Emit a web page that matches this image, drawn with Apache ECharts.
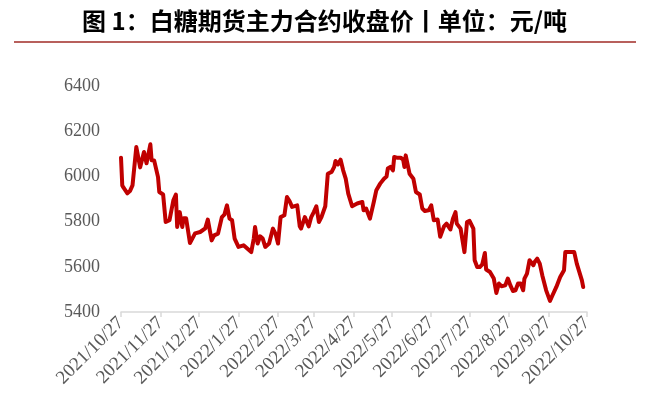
<!DOCTYPE html>
<html>
<head>
<meta charset="utf-8">
<script src="https://cdn.jsdelivr.net/npm/echarts@6/dist/echarts.min.js"></script>
<style>
  html, body { margin: 0; padding: 0; background: #fff; }
  #chart { width: 649px; height: 405px; }
</style>
</head>
<body>
<div id="chart"></div>
<script>
// 白糖期货主力合约收盘价 (元/吨)
const dates = [
  '2021-10-27','2021-10-28','2021-10-29','2021-11-01','2021-11-03','2021-11-05','2021-11-08','2021-11-11',
  '2021-11-14','2021-11-16','2021-11-19','2021-11-20','2021-11-22','2021-11-25','2021-11-26','2021-11-29',
  '2021-12-01','2021-12-04','2021-12-07','2021-12-09','2021-12-10','2021-12-12','2021-12-14','2021-12-15',
  '2021-12-17','2021-12-20','2021-12-21','2021-12-24','2021-12-28','2022-01-01','2022-01-03','2022-01-06',
  '2022-01-08','2022-01-11','2022-01-14','2022-01-16','2022-01-18','2022-01-20','2022-01-22','2022-01-24',
  '2022-01-27','2022-01-31','2022-02-06','2022-02-08','2022-02-09','2022-02-11','2022-02-13','2022-02-15',
  '2022-02-17','2022-02-20','2022-02-23','2022-02-25','2022-02-27','2022-03-01','2022-03-04','2022-03-06',
  '2022-03-08','2022-03-10','2022-03-11','2022-03-14','2022-03-16','2022-03-17','2022-03-20','2022-03-23',
  '2022-03-25','2022-03-27','2022-03-29','2022-03-31','2022-04-02','2022-04-05','2022-04-07','2022-04-10',
  '2022-04-12','2022-04-13','2022-04-15','2022-04-17','2022-04-19','2022-04-21','2022-04-23','2022-04-26',
  '2022-04-30','2022-05-04','2022-05-05','2022-05-07','2022-05-10','2022-05-11','2022-05-13','2022-05-15',
  '2022-05-18','2022-05-21','2022-05-23','2022-05-24','2022-05-26','2022-05-28','2022-05-29','2022-05-31',
  '2022-06-03','2022-06-05','2022-06-06','2022-06-07','2022-06-08','2022-06-10','2022-06-13','2022-06-15',
  '2022-06-18','2022-06-20','2022-06-22','2022-06-25','2022-06-27','2022-06-29','2022-07-02','2022-07-04',
  '2022-07-07','2022-07-09','2022-07-12','2022-07-14','2022-07-16','2022-07-17','2022-07-20','2022-07-23',
  '2022-07-25','2022-07-27','2022-07-30','2022-07-31','2022-08-02','2022-08-04','2022-08-06','2022-08-08',
  '2022-08-09','2022-08-12','2022-08-15','2022-08-17','2022-08-19','2022-08-21','2022-08-24','2022-08-26',
  '2022-08-28','2022-08-30','2022-09-01','2022-09-03','2022-09-05','2022-09-07','2022-09-08','2022-09-10',
  '2022-09-12','2022-09-15','2022-09-16','2022-09-18','2022-09-20','2022-09-22','2022-09-25','2022-09-28',
  '2022-09-30','2022-10-03','2022-10-06','2022-10-09','2022-10-10','2022-10-11','2022-10-13','2022-10-17',
  '2022-10-19','2022-10-23','2022-10-24'
];
const prices = [
  6083, 5960, 5950, 5925, 5935, 5960, 6130, 6040,
  6108, 6058, 6142, 6071, 6070, 5997, 5931, 5920,
  5798, 5806, 5894, 5920, 5776, 5842, 5776, 5815,
  5815, 5705, 5703, 5748, 5754, 5770, 5809, 5717,
  5739, 5747, 5820, 5831, 5872, 5813, 5806, 5725,
  5688, 5695, 5665, 5725, 5776, 5703, 5735, 5725,
  5688, 5703, 5769, 5747, 5703, 5820, 5828, 5909,
  5891, 5865, 5868, 5872, 5779, 5769, 5820, 5779,
  5820, 5842, 5868, 5798, 5820, 5868, 6012, 6020,
  6042, 6068, 6053, 6074, 6027, 5990, 5924, 5868,
  5880, 5887, 5850, 5858, 5813, 5806, 5887, 5939,
  5968, 5990, 6000, 6035, 6042, 6027, 6086, 6083,
  6083, 6074, 6042, 6093, 6101, 6012, 5990, 5931,
  5920, 5858, 5847, 5850, 5872, 5806, 5809, 5733,
  5779, 5791, 5765, 5813, 5842, 5791, 5769, 5665,
  5798, 5803, 5769, 5629, 5599, 5599, 5611, 5661,
  5588, 5577, 5548, 5484, 5526, 5514, 5518, 5548,
  5518, 5493, 5496, 5526, 5526, 5496, 5548, 5570,
  5629, 5607, 5621, 5636, 5614, 5562, 5496, 5449,
  5474, 5511, 5555, 5585, 5665, 5661, 5665, 5665,
  5614, 5540, 5511
];
const tickDates = [
  '2021-10-27','2021-11-27','2021-12-27','2022-01-27','2022-02-27','2022-03-27','2022-04-27',
  '2022-05-27','2022-06-27','2022-07-27','2022-08-27','2022-09-27','2022-10-27'
];
const yTicks = [5400, 5600, 5800, 6000, 6200, 6400];

// x is counted in days from the first tick date, so the axis stays calendar-true
const toTime = s => { const p = s.split('-'); return Date.UTC(+p[0], +p[1] - 1, +p[2]); };
const t0 = toTime(tickDates[0]);
const toDay = s => Math.round((toTime(s) - t0) / 86400000);
const tickDays = tickDates.map(toDay);
const seriesData = dates.map((d, i) => [toDay(d), prices[i]]);
const dayLabel = {};
tickDates.forEach(s => {
  const p = s.split('-');
  dayLabel[toDay(s)] = p[0] + '/' + (+p[1]) + '/' + (+p[2]);
});

const serif = '"Liberation Serif", "Times New Roman", serif';

const chart = echarts.init(document.getElementById('chart'), null, { renderer: 'canvas' });
chart.setOption({
  animation: false,
  backgroundColor: '#fff',
  title: {
    text: '图 1：白糖期货主力合约收盘价丨单位：元/吨',
    left: 'center',
    top: 4,
    textStyle: {
      fontFamily: '"Noto Sans CJK SC", sans-serif',
      fontSize: 24,
      fontWeight: 'bold',
      color: '#000'
    }
  },
  graphic: [{
    type: 'rect',
    shape: { x: 14, y: 41, width: 622, height: 2 },
    style: { fill: '#b8605c' },
    silent: true
  }],
  grid: { left: 121, right: 62, top: 86, bottom: 93, containLabel: false },
  xAxis: {
    type: 'value',
    min: tickDays[0],
    max: tickDays[tickDays.length - 1],
    axisLine: { show: true, onZero: false, lineStyle: { color: '#d9d9d9', width: 1.5 } },
    axisTick: { show: true, length: 5, customValues: tickDays, lineStyle: { color: '#d9d9d9', width: 1.5 } },
    splitLine: { show: false },
    axisLabel: {
      customValues: tickDays,
      rotate: 45,
      margin: 8,
      fontFamily: serif,
      fontSize: 19,
      color: '#595959',
      formatter: v => dayLabel[Math.round(v)] || ''
    }
  },
  yAxis: {
    type: 'value',
    min: yTicks[0],
    max: yTicks[yTicks.length - 1],
    interval: 200,
    axisLine: { show: false },
    axisTick: { show: false },
    splitLine: { show: false },
    axisLabel: {
      margin: 21,
      fontFamily: serif,
      fontSize: 18,
      color: '#595959',
      formatter: v => String(v)
    }
  },
  series: [{
    type: 'line',
    data: seriesData,
    showSymbol: false,
    lineStyle: { color: '#c00000', width: 4, join: 'round', cap: 'round' },
    itemStyle: { color: '#c00000' }
  }]
});
</script>
</body>
</html>
